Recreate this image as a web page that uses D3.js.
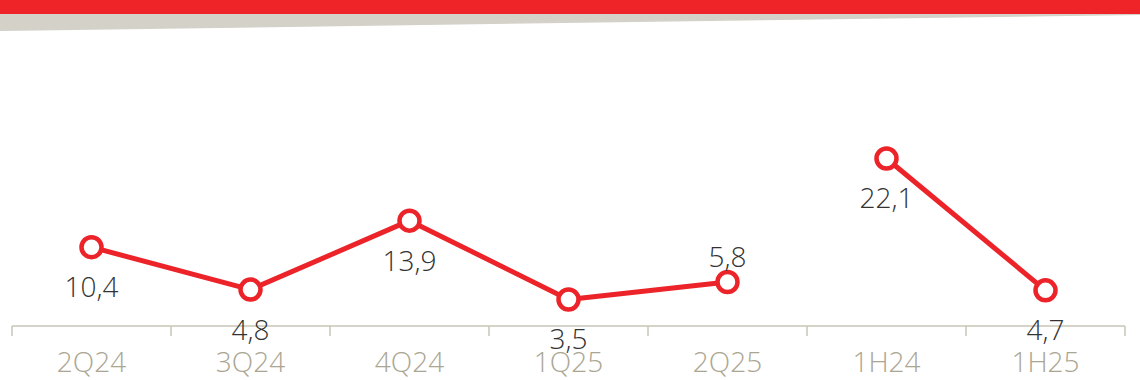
<!DOCTYPE html>
<html>
<head>
<meta charset="utf-8">
<script src="https://cdn.jsdelivr.net/npm/d3@7"></script>
<style>
  html, body { margin: 0; padding: 0; background: #ffffff; }
  svg { display: block; }
  text { font-family: "Open Sans", "Noto Sans", sans-serif; }
</style>
</head>
<body>
<svg id="chart" width="1140" height="380"></svg>
<script>
// Quarterly and half-year values
const categories = ["2Q24", "3Q24", "4Q24", "1Q25", "2Q25", "1H24", "1H25"];
const quarterCats = ["2Q24", "3Q24", "4Q24", "1Q25", "2Q25"];
const quarterValues = [10.4, 4.8, 13.9, 3.5, 5.8];
const halfCats = ["1H24", "1H25"];
const halfValues = [22.1, 4.7];
// label placement: below the point unless marked "above"
const quarterLabelPos = ["below", "below", "below", "below", "above"];
const halfLabelPos = ["below", "below"];

const W = 1140, H = 380;
const svg = d3.select("#chart");

const red = "#ec2329";
const axisColor = "#c9c5b6";
const catColor = "#aba692";

// header band
svg.append("polygon")
  .attr("points", "0,14 1140,14 1140,15 0,31")
  .attr("fill", "#d3d1c8");
svg.append("rect").attr("x", 0).attr("y", 0).attr("width", W).attr("height", 14).attr("fill", "#ee2428");

const x = d3.scaleBand().domain(categories).range([12, 1125]).padding(0);
const y = d3.scaleLinear().domain([0, 30]).range([326, 98.6]);

// axis
const axis = d3.axisBottom(x).tickSize(0).tickPadding(0);
const gAxis = svg.append("g").attr("transform", "translate(0,326)");
gAxis.call(axis);
gAxis.select(".domain").remove();
gAxis.selectAll(".tick line").remove();
gAxis.selectAll(".tick text")
  .attr("y", 46)
  .attr("dy", 0)
  .attr("fill", catColor)
  .style("font-size", "28px")
  .style("font-weight", 300);

gAxis.append("line")
  .attr("x1", x.range()[0]).attr("x2", x.range()[1])
  .attr("y1", 0).attr("y2", 0)
  .attr("stroke", axisColor).attr("stroke-width", 1.5);

const boundaries = categories.map(c => x(c)).concat([x.range()[1]]);
gAxis.selectAll(".sep").data(boundaries).enter().append("line")
  .attr("x1", d => d).attr("x2", d => d)
  .attr("y1", 0).attr("y2", 10)
  .attr("stroke", axisColor).attr("stroke-width", 1.5);

const cx = c => x(c) + x.bandwidth() / 2;

function drawSeries(cats, vals, pos) {
  const data = cats.map((c, i) => ({ c, v: vals[i], p: pos[i] }));
  const line = d3.line().x(d => cx(d.c)).y(d => y(d.v));
  svg.append("path").datum(data)
    .attr("d", line)
    .attr("fill", "none")
    .attr("stroke", red)
    .attr("stroke-width", 5)
    .attr("stroke-linejoin", "round");
  svg.append("g").selectAll("circle").data(data).enter().append("circle")
    .attr("cx", d => cx(d.c)).attr("cy", d => y(d.v))
    .attr("r", 10)
    .attr("fill", "#ffffff")
    .attr("stroke", red)
    .attr("stroke-width", 4.5);
  svg.append("g").selectAll("text").data(data).enter().append("text")
    .attr("x", d => cx(d.c))
    .attr("y", d => d.p === "above" ? y(d.v) - 15 : y(d.v) + 50)
    .attr("text-anchor", "middle")
    .attr("fill", "#333333")
    .style("font-size", "28px")
    .style("font-weight", 300)
    .text(d => d3.format(".1f")(d.v).replace(".", ","));
}

drawSeries(quarterCats, quarterValues, quarterLabelPos);
drawSeries(halfCats, halfValues, halfLabelPos);
</script>
</body>
</html>
